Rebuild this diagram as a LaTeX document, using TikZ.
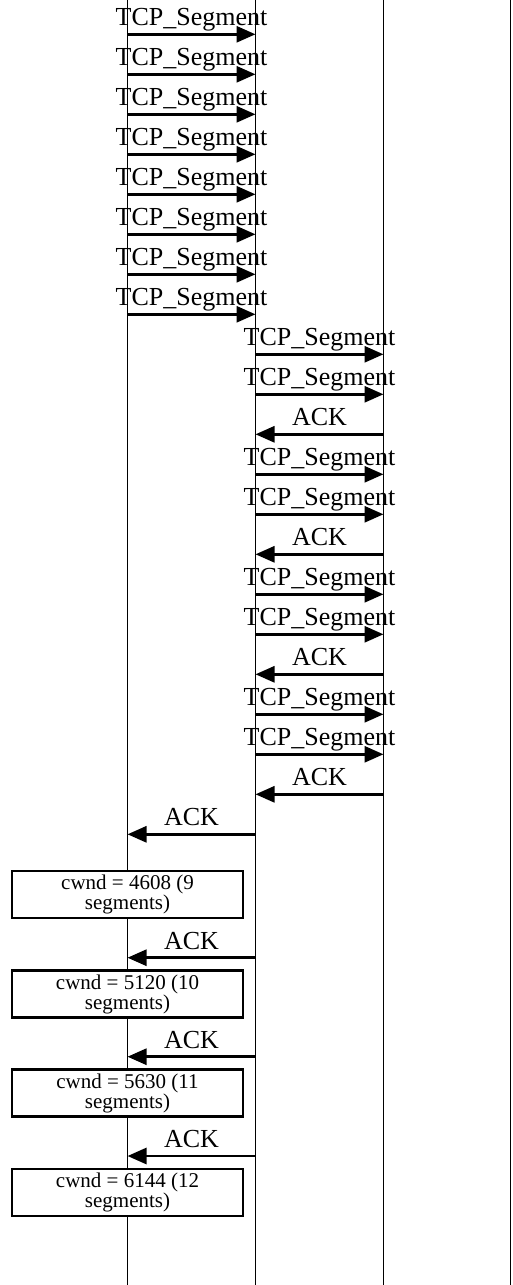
\documentclass[tikz,border=0pt]{standalone}
\usepackage{fontspec}
\setmainfont{Liberation Serif}
\usetikzlibrary{arrows.meta}

\begin{document}
\begin{tikzpicture}[x=1pt,y=-1pt,>={Triangle[length=19pt,width=16pt]},
  life/.style={line width=0.8pt},
  msg/.style={->,line width=2.8pt},
  lbl/.style={midway,anchor=base,yshift=8.5pt,inner sep=0pt,font=\fontsize{26}{30}\selectfont},
  cwnd/.style={draw,fill=white,line width=2.8pt,minimum width=231pt,minimum height=47pt,
    inner sep=0pt,align=center,font=\fontsize{21}{18.5}\selectfont}]
  \useasboundingbox (0,0) rectangle (512,1285);
  % lifelines
  \coordinate (S) at (127.5,0);
  \coordinate (G) at (255.5,0);
  \coordinate (R) at (383.5,0);
  \coordinate (D) at (510.5,0);
  \coordinate (Sb) at (127.5,1285);
  \coordinate (Gb) at (255.5,1285);
  \coordinate (Rb) at (383.5,1285);
  \coordinate (Db) at (510.5,1285);
  \draw[life] (S) -- (Sb);
  \draw[life] (G) -- (Gb);
  \draw[life] (R) -- (Rb);
  \draw[life] (D) -- (Db);
  % first burst
  \foreach \y in {34.3,74.3,114.3,154.3,194.3,234.3,274.3,314.3}
    \draw[msg] (S |- 0,\y) -- node[lbl]{TCP\_Segment} (G |- 0,\y);
  % two segments, one ack
  \foreach \y in {354.3,474.3,594.3,714.3} {
    \draw[msg] (G |- 0,\y) -- node[lbl]{TCP\_Segment} (R |- 0,\y);
    \draw[msg] (G |- 0,\y+40) -- node[lbl]{TCP\_Segment} (R |- 0,\y+40);
    \draw[msg] (R |- 0,\y+80) -- node[lbl]{ACK} (G |- 0,\y+80);
  }
  % acks back and window growth
  \draw[msg] (G |- 0,834.3) -- node[lbl]{ACK} (S |- 0,834.3);
  \node[cwnd] (w9) at (S |- 0,894.5) {cwnd = 4608 (9\\segments)};
  \draw[msg] (G |- 0,957.7) -- node[lbl]{ACK} (S |- 0,957.7);
  \node[cwnd] (w10) at (S |- 0,994) {cwnd = 5120 (10\\segments)};
  \draw[msg] (G |- 0,1056.7) -- node[lbl]{ACK} (S |- 0,1056.7);
  \node[cwnd] (w11) at (S |- 0,1093.3) {cwnd = 5630 (11\\segments)};
  \draw[msg] (G |- 0,1156) -- node[lbl]{ACK} (S |- 0,1156);
  \node[cwnd] (w12) at (S |- 0,1192.5) {cwnd = 6144 (12\\segments)};
\end{tikzpicture}
\end{document}
